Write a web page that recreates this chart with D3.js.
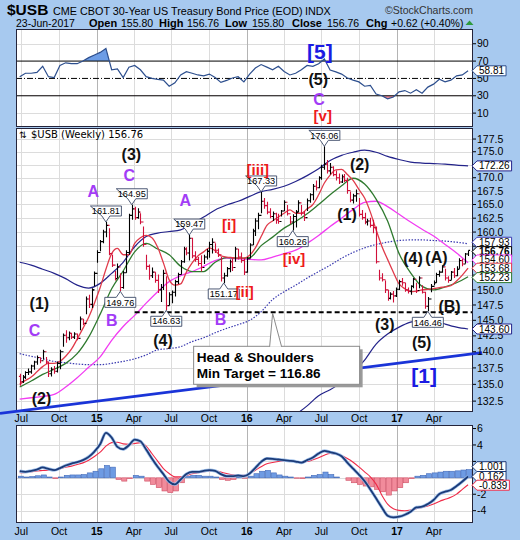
<!DOCTYPE html>
<html>
<head>
<meta charset="utf-8">
<script src="https://cdn.jsdelivr.net/npm/d3@7/dist/d3.min.js"></script>
<style>
  html, body { margin: 0; padding: 0; background: #a7c9ef; }
  svg { display: block; }
</style>
</head>
<body>
<svg id="chart" width="520" height="540"></svg>
<script>
// ============================================================
//  $USB weekly bars, Elliott-wave labels, RSI and MACD panels
// ============================================================

// ── Weekly bars (Fri 27-Jun-2014 .. Fri 23-Jun-2017) ──
const weekHigh = [
  136.6,136.4,137.0,137.4,138.0,138.6,139.4,139.1,140.3,139.2,138.5,137.6,137.8,138.5,140.3,142.9,143.4,143.2,143.0,143.1,
  142.9,145.6,145.2,148.9,149.2,150.3,153.1,156.8,158.6,160.4,161.81,160.7,156.0,153.2,154.5,152.8,153.2,156.8,163.3,164.95,
  164.6,164.3,163.4,161.0,156.0,154.3,153.8,153.0,152.6,151.0,153.4,152.3,149.6,149.9,151.7,152.9,155.1,157.4,157.3,159.47,
  159.0,156.6,155.6,155.9,156.0,157.0,158.3,158.9,158.0,157.1,155.6,152.9,153.9,155.2,155.4,157.4,157.0,156.4,155.4,155.6,
  158.0,160.6,162.5,163.5,167.33,166.2,165.5,164.3,163.7,163.5,163.3,164.0,165.8,164.9,162.9,163.2,164.0,165.8,164.9,163.8,
  166.1,167.1,168.8,169.5,170.3,172.5,176.06,173.4,172.8,172.2,171.4,170.8,170.6,170.7,170.0,167.4,167.0,167.8,166.2,164.0,
  163.5,162.4,162.6,162.2,161.0,153.4,152.8,151.6,150.0,149.6,149.8,150.4,151.7,152.0,151.2,150.4,150.8,152.0,151.2,152.3,
  150.8,149.7,148.8,151.0,151.6,152.9,153.3,154.2,153.6,152.3,153.2,153.7,154.0,155.4,155.3,156.3,156.76
];
const weekLow = [
  134.8,135.2,135.8,136.4,136.6,137.2,138.0,138.2,138.8,138.1,136.1,136.2,136.6,136.8,137.3,140.8,141.4,141.8,142.0,142.0,
  141.8,143.4,144.2,146.0,147.0,147.0,150.6,154.6,156.6,158.0,159.1,155.9,153.9,151.6,152.0,149.76,150.2,152.9,156.0,162.2,
  162.2,162.4,161.4,157.4,153.4,151.7,152.0,151.2,149.5,148.0,150.0,146.63,147.4,147.8,148.9,151.0,152.6,154.6,155.9,155.0,
  155.4,154.8,154.1,153.1,154.4,155.2,155.5,156.2,156.3,155.6,151.4,151.17,152.2,153.0,153.2,154.8,155.2,154.6,152.5,152.9,
  155.4,157.7,159.3,160.5,163.4,164.2,163.2,162.5,162.0,161.5,161.5,162.8,163.8,163.0,161.4,160.26,160.8,163.6,163.0,162.0,
  163.8,165.3,165.8,167.6,168.0,169.6,171.5,170.8,170.6,170.3,169.5,168.8,169.0,169.2,167.0,165.4,165.2,165.5,162.8,162.2,
  161.4,161.2,160.8,159.8,154.5,151.6,151.4,149.5,148.2,148.4,147.9,148.8,150.0,150.7,149.7,149.4,149.2,150.3,149.5,150.3,
  149.4,146.9,146.46,149.6,150.8,151.2,152.2,152.9,151.6,151.2,151.7,152.0,152.3,153.6,154.0,154.5,155.80
];
const weekClose = [
  135.4,136.1,136.8,136.9,137.8,138.4,139.1,138.6,140.0,138.4,136.6,137.3,137.0,138.2,140.0,142.6,142.2,142.9,142.3,142.8,
  142.1,145.2,144.5,148.5,147.6,150.0,152.8,156.4,158.3,160.0,161.2,156.2,154.2,151.9,153.9,150.4,152.9,156.4,163.0,164.2,
  162.6,163.6,161.8,157.8,154.0,152.4,153.0,151.6,150.0,150.4,152.8,147.4,149.2,149.6,151.4,152.6,154.8,157.0,156.3,158.9,
  155.8,155.2,154.5,153.8,155.6,156.6,157.8,158.2,156.8,156.0,152.0,152.4,153.6,154.8,153.8,157.0,155.6,155.0,153.0,155.3,
  157.7,160.2,162.0,163.0,165.6,164.8,163.6,162.8,163.3,162.2,161.9,163.8,165.4,163.3,161.8,162.8,163.6,165.3,163.4,162.6,
  165.7,166.8,168.4,168.1,170.0,172.0,172.6,171.3,172.0,170.6,170.0,169.2,170.2,169.5,167.6,165.8,166.6,167.0,163.2,162.6,
  161.8,162.0,161.2,160.8,154.8,152.0,151.7,150.0,148.6,149.3,149.0,150.1,151.4,151.2,150.0,149.8,150.6,151.8,149.9,152.0,
  149.6,147.3,148.5,150.6,151.2,152.6,153.0,153.9,152.0,151.6,153.0,152.4,153.5,155.0,154.4,156.14,156.76
];
const firstOpen = 136.2;

// ── Indicators read every 2nd week ──
const rsi14 = [
  52,56,56,57,64,52,51,65,68,67,67,70,74,77,80,84.6,60,61,51,63,
  65,60,52,50,49,48,41,45,54,57.7,56,54,53,55,51,45.4,47.7,50.5,52,46,
  55,62,66,63,60,64,58,54,56,60,65,64,67,72.5,59.6,57.5,55,50.5,48,46,
  41,42,32,30,26.5,28.6,34.6,36,33,37,33,40,43.4,49,46,48,53,54,58.81
];
const redMA = [
  135.0,135.6,136.1,136.9,137.7,138.2,138.2,138.5,139.3,140.4,142.0,143.7,145.5,147.8,150.4,153.5,156.2,157.1,156.0,156.0,
  158.0,159.0,159.4,159.0,157.3,154.6,151.7,150.8,151.0,153.0,154.6,155.8,156.5,157.2,156.7,155.8,155.6,155.5,155.4,155.4,
  155.9,157.2,159.2,161.2,162.0,162.7,163.4,164.0,163.4,163.4,164.2,165.0,166.8,169.0,170.5,171.5,171.6,170.6,169.5,167.8,
  166.2,163.6,160.4,157.5,155.2,153.0,151.0,150.2,149.7,149.8,150.0,150.1,150.2,150.4,150.5,150.7,151.5,152.5,153.68
];
const macdLine = [
  0.81,0.73,0.85,1.01,1.26,1.09,0.93,1.18,1.50,1.74,1.90,2.15,2.55,3.20,4.09,5.47,4.90,3.77,3.48,3.97,
  4.66,4.45,3.44,2.35,1.34,0.45,-0.48,-0.80,-0.20,0.45,0.73,0.73,0.85,0.93,0.85,0.45,0.20,0.20,0.28,0.20,
  0.53,1.22,1.94,2.35,2.31,2.23,2.15,2.07,1.98,1.86,2.15,2.47,2.96,3.28,3.12,2.96,2.63,1.86,1.13,0.40,
  -0.40,-1.41,-2.50,-3.60,-4.61,-4.81,-4.73,-4.49,-4.12,-3.60,-3.52,-3.19,-2.70,-1.98,-1.69,-1.49,-1.00,-0.44,0.162
];
const macdSignal = [
  0.61,0.65,0.73,0.85,0.89,0.93,0.93,1.09,1.30,1.42,1.62,1.82,2.15,2.59,3.12,3.85,4.29,4.33,4.13,4.09,
  4.17,4.29,3.85,2.96,2.03,1.13,0.53,0.12,0.12,0.28,0.49,0.61,0.73,0.81,0.85,0.69,0.53,0.36,0.32,0.32,
  0.53,0.93,1.34,1.70,1.86,1.98,2.07,2.07,1.98,1.94,1.98,2.19,2.43,2.76,2.96,2.92,2.71,2.35,1.90,1.34,
  0.73,0.12,-0.77,-2.11,-3.19,-3.76,-3.96,-4.00,-3.92,-3.76,-3.60,-3.43,-3.19,-2.87,-2.62,-2.38,-1.98,-1.41,-0.839
];
const macdHist = [
  0.2,0.1,0.15,0.25,0.35,0.1,-0.1,0.1,0.3,0.35,0.35,0.4,0.6,0.8,1.1,1.5,1.3,-0.2,-0.4,-0.1,
  0.3,0.2,-0.4,-0.8,-1.2,-1.6,-1.8,-1.6,-0.6,0.2,0.3,0.3,0.2,0.2,0.1,-0.2,-0.3,-0.2,0.1,-0.05,
  0.2,0.5,0.8,0.9,0.6,0.35,0.2,0.1,-0.05,-0.1,0.1,0.3,0.4,0.7,0.4,0.1,0.0,-0.3,-0.6,-0.8,
  -1.0,-1.1,-1.4,-1.7,-2.1,-1.6,-1.2,-0.6,-0.1,0.2,0.3,0.5,0.6,0.7,0.8,0.8,0.85,0.95,1.001
];

// ── Overlays read every 4th week ──
const greenMA = [
  134.6,135.5,136.5,137.3,138.2,139.7,142.3,146.0,150.2,153.2,156.5,158.0,157.0,156.0,154.0,153.1,153.1,154.7,155.5,155.4,
  155.5,157.6,159.1,160.7,161.9,163.3,165.0,166.8,168.5,169.9,168.8,166.0,162.0,156.2,152.9,150.6,150.0,150.5,151.2,152.23
];
const magentaMA = [
  132.8,133.0,133.2,133.5,134.6,136.0,137.6,139.2,141.8,144.0,145.8,147.8,149.7,151.4,152.4,153.1,154.0,155.0,155.4,155.3,
  155.2,155.1,155.6,156.2,156.8,158.0,159.4,161.0,162.5,164.1,165.4,165.6,164.6,163.2,161.8,160.5,159.3,157.8,156.3,154.6
];
const bandMid = [
  139.7,139.3,138.9,138.5,138.3,138.1,138.0,138.0,138.2,138.5,138.9,139.5,140.3,140.5,140.8,141.6,142.2,143.0,143.7,144.3,
  145.0,146.4,148.4,149.7,150.8,152.0,153.1,154.2,155.4,156.4,157.2,157.8,158.2,158.5,158.6,158.6,158.5,158.4,158.2,157.93
];
const bandUpper = [
  154.7,154.2,153.5,152.8,151.9,150.8,150.3,151.1,152.8,154.7,157.4,159.2,159.8,160.1,160.4,161.5,162.7,164.0,164.9,165.6,
  166.5,167.4,167.8,168.4,169.3,170.4,171.7,173.3,174.3,174.9,175.3,174.9,174.1,173.5,173.0,172.8,172.7,172.6,172.4,172.26
];
const bandLower = [
  124.7,124.4,124.3,124.2,124.7,125.4,125.7,124.9,123.6,122.3,120.4,119.8,120.8,120.9,121.2,121.7,121.7,122.0,122.5,123.0,
  123.5,125.4,128.0,129.3,130.5,131.8,133.3,134.2,135.3,136.8,138.7,141.2,142.8,143.9,144.7,145.0,145.0,144.4,143.9,143.60
];

// ── Axis ticks (labels hidden behind the value boxes are left out) ──
const priceTicks = d3.range(132.5, 178, 2.5);
const priceTickLabels = [132.5, 135, 137.5, 140, 142.5, 145, 147.5, 150, 160, 162.5, 165, 167.5, 170, 175, 177.5];
const rsiTicks = [10, 30, 50, 70, 90];
const macdTicks = [-4, -2, 2, 4, 6];
const macdTickLabels = [-4, -2, 4, 6];

// ── Marked highs / lows: week index, value, side ──
const tagWeek  = [30, 39, 35, 59, 51, 71, 84, 106, 95, 142];
const tagValue = [161.81, 164.95, 149.76, 159.47, 146.63, 151.17, 167.33, 176.06, 160.26, 146.46];
const tagSide  = ["hi", "hi", "lo", "hi", "lo", "lo", "hi", "hi", "lo", "lo"];

// ── Wave labels in the price panel: text, week index, price level, style ──
const waveText  = ["(3)","C","A","A","(1)","C","(2)","B","(4)","B","[i]","[ii]","[iii]","[iv]",
                   "(2)","(1)","(4)","(A)","(B)","(3)","(5)","[1]"];
const waveWeek  = [38.9,38.1,25.6,57.5,6.8,5.1,7.6,32,49.9,69.9,72.8,78.3,82.9,95.4,
                   118.3,113.9,136.9,145,149.6,127,139.8,140.7];
const waveLevel = [174.5,170.4,167.4,165.8,147.8,143.3,132.9,144.9,141.8,145.2,161.4,149.7,171.6,155.3,
                   172.6,163.2,155.4,155.5,147.3,144.3,141.5,136.3];
const waveStyle = ["k","p","p","p","k","p","k","p","k","p","r","r","r","r",
                   "k","k","k","k","k","k","k","b"];
// ── Wave labels in the RSI panel ──
const rsiWaveText  = ["[5]", "(5)", "C", "[v]"];
const rsiWaveWeek  = [104.4, 103.8, 104.1, 105.4];
const rsiWaveLevel = [80.7, 49.2, 26.1, 7.7];
const rsiWaveStyle = ["b", "k", "p", "r"];

const necklinePrice = 146.3;
const necklineStartWeek = 40;
const trendFrom = [new Date(2014, 5, 18), 131.0];
const trendTo   = [new Date(2017, 6, 5), 139.7];

// ============================================================
const W = 520, H = 540;
const L = 16, R = 473;
const rsiTop = 29, rsiBot = 127, pTop = 128, pBot = 412, mTop = 425, mBot = 523;
const FONT = "'Liberation Sans', Arial, sans-serif";

const STYLE = {
  k: { fill: "#111", size: 16 },
  p: { fill: "#a23cf6", size: 16 },
  r: { fill: "#ee1b1b", size: 15 },
  b: { fill: "#1b1be3", size: 21 }
};

const weeks = d3.timeFriday.range(new Date(2014, 5, 27), new Date(2017, 5, 24));

const x = d3.scaleTime()
  .domain([new Date(2014, 5, 18), new Date(2017, 6, 5)])
  .range([L, R]);
const yP = d3.scaleLog().domain([130.9, 179.7]).range([pBot, pTop]);
const yR = d3.scaleLinear().domain([-6, 107]).range([rsiBot, rsiTop]);
const yM = d3.scaleLinear().domain([-5.5, 6.43]).range([mBot, mTop]);

const quarters = d3.timeMonth.every(3).range(new Date(2014, 6, 1), new Date(2017, 5, 30));
const qLabel = d => d.getMonth() === 0 ? d3.timeFormat("%y")(d) : d3.timeFormat("%b")(d);

const svg = d3.select("#chart").attr("font-family", FONT);
svg.append("rect").attr("width", W).attr("height", H).attr("fill", "#a7c9ef");

const defs = svg.append("defs");
function clip(id, x0, y0, x1, y1) {
  defs.append("clipPath").attr("id", id).append("rect")
    .attr("x", x0).attr("y", y0).attr("width", x1 - x0).attr("height", y1 - y0);
}
clip("clipR", L, rsiTop, R, rsiBot);
clip("clipP", L, pTop, R, pBot);
clip("clipM", L, mTop, R, mBot);
clip("clipOB", L, rsiTop, R, yR(70));
clip("clipOS", L, yR(30), R, rsiBot);

// ── header ──────────────────────────────────────────────────
const hdr = svg.append("g").attr("fill", "#000");
hdr.append("text").attr("x", 7).attr("y", 15).attr("font-size", 15.5).attr("font-weight", "bold").text("$USB");
hdr.append("text").attr("x", 53).attr("y", 14.5).attr("font-size", 10.8)
  .text("CME CBOT 30-Year US Treasury Bond Price (EOD)");
hdr.append("text").attr("x", 305).attr("y", 14.5).attr("font-size", 10.8).text("INDX");
hdr.append("text").attr("x", 385).attr("y", 14).attr("font-size", 11).attr("fill", "#333")
  .attr("textLength", 88).attr("lengthAdjust", "spacingAndGlyphs").text("©StockCharts.com");

const line2 = [
  [16, "23-Jun-2017", false], [89, "Open", true], [121, "155.80", false],
  [159, "High", true], [187, "156.76", false], [225, "Low", true], [252, "155.80", false],
  [292, "Close", true], [327, "156.76", false], [366, "Chg", true], [391, "+0.62 (+0.40%)", false]
];
hdr.selectAll("text.l2").data(line2).join("text")
  .attr("class", "l2")
  .attr("x", d => d[0]).attr("y", 26.5)
  .attr("font-size", d => d[2] ? 11 : 10.5)
  .attr("font-weight", d => d[2] ? "bold" : "normal")
  .text(d => d[1]);
hdr.append("path").attr("d", "M465.5,25 L469.5,20.5 L473.5,25 Z").attr("fill", "#2e9a3c");

// ── panel backgrounds + grids ───────────────────────────────
function panelBase(top, bottom, yScale, hTicks) {
  const g = svg.append("g");
  g.append("rect").attr("x", L).attr("y", top).attr("width", R - L).attr("height", bottom - top).attr("fill", "#fff");
  g.selectAll("line.h").data(hTicks).join("line")
    .attr("x1", L).attr("x2", R)
    .attr("y1", d => Math.round(yScale(d)) + 0.5).attr("y2", d => Math.round(yScale(d)) + 0.5)
    .attr("stroke", "#dcdcdc").attr("stroke-width", 1);
  g.selectAll("line.v").data(quarters).join("line")
    .attr("x1", d => Math.round(x(d)) + 0.5).attr("x2", d => Math.round(x(d)) + 0.5)
    .attr("y1", top).attr("y2", bottom)
    .attr("stroke", d => d.getMonth() === 0 ? "#b4b4b4" : "#dcdcdc").attr("stroke-width", 1);
  return g;
}
panelBase(rsiTop, rsiBot, yR, [10, 90]);
panelBase(pTop, pBot, yP, priceTicks);
panelBase(mTop, mBot, yM, [-4, -2, 0, 2, 4]);

// ── RSI panel ───────────────────────────────────────────────
const gR = svg.append("g").attr("clip-path", "url(#clipR)");
const rsiX = (v, k) => x(weeks[k * 2]);
gR.append("path")
  .attr("d", d3.area().x(rsiX).y0(yR(70)).y1(v => yR(v))(rsi14))
  .attr("fill", "#6d9de6").attr("clip-path", "url(#clipOB)");
gR.append("path")
  .attr("d", d3.area().x(rsiX).y0(yR(30)).y1(v => yR(v))(rsi14))
  .attr("fill", "#f08c9c").attr("clip-path", "url(#clipOS)");
[70, 30].forEach(v => gR.append("line").attr("x1", L).attr("x2", R)
  .attr("y1", yR(v)).attr("y2", yR(v)).attr("stroke", "#000").attr("stroke-width", 1));
gR.append("line").attr("x1", L).attr("x2", R).attr("y1", yR(50)).attr("y2", yR(50))
  .attr("stroke", "#000").attr("stroke-width", 1).attr("stroke-dasharray", "6,2,1,2");
gR.append("path")
  .attr("d", d3.line().x(rsiX).y(v => yR(v))(rsi14))
  .attr("fill", "none").attr("stroke", "#2d4f8e").attr("stroke-width", 1.2);

function drawWave(g, texts, weeksIdx, levels, styles, yScale) {
  g.selectAll("text").data(texts).join("text")
    .attr("x", (t, k) => x(d3.timeDay.offset(weeks[0], Math.round(weeksIdx[k] * 7))))
    .attr("y", (t, k) => yScale(levels[k]))
    .attr("text-anchor", "middle").attr("dominant-baseline", "central")
    .attr("font-weight", "bold")
    .attr("font-size", (t, k) => STYLE[styles[k]].size)
    .attr("fill", (t, k) => STYLE[styles[k]].fill)
    .text(t => t);
}
drawWave(svg.append("g"), rsiWaveText, rsiWaveWeek, rsiWaveLevel, rsiWaveStyle, yR);

// ── price panel ─────────────────────────────────────────────
const gP = svg.append("g").attr("clip-path", "url(#clipP)");
const lineOf = step => d3.line()
  .x((v, k) => x(weeks[k * step]))
  .y(v => yP(v))
  .curve(d3.curveMonotoneX);

gP.append("path").attr("d", lineOf(4)(bandUpper)).attr("fill", "none").attr("stroke", "#23238a").attr("stroke-width", 1.2);
gP.append("path").attr("d", lineOf(4)(bandLower)).attr("fill", "none").attr("stroke", "#23238a").attr("stroke-width", 1.2);
gP.append("path").attr("d", lineOf(4)(bandMid)).attr("fill", "none").attr("stroke", "#3a3ab0")
  .attr("stroke-width", 1.2).attr("stroke-dasharray", "1.5,1.5");
gP.append("path").attr("d", lineOf(4)(magentaMA)).attr("fill", "none").attr("stroke", "#f23cf2").attr("stroke-width", 1.3);
gP.append("path").attr("d", lineOf(4)(greenMA)).attr("fill", "none").attr("stroke", "#2f7a2f").attr("stroke-width", 1.3);
gP.append("path").attr("d", lineOf(2)(redMA)).attr("fill", "none").attr("stroke", "#e03a4a").attr("stroke-width", 1.3);

// OHLC bars (open tick = previous close)
const prevClose = i => i === 0 ? firstOpen : weekClose[i - 1];
gP.append("g").selectAll("path").data(weekClose).join("path")
  .attr("d", (c, i) => {
    const cx = Math.round(x(weeks[i])) + 0.5;
    return `M${cx},${yP(weekHigh[i])}V${yP(weekLow[i])}` +
           `M${cx - 1.6},${yP(prevClose(i))}H${cx}` +
           `M${cx},${yP(c)}H${cx + 1.6}`;
  })
  .attr("fill", "none")
  .attr("stroke", (c, i) => c < prevClose(i) ? "#d0103a" : "#000")
  .attr("stroke-width", 1.1);

// neckline
gP.append("line")
  .attr("x1", x(weeks[necklineStartWeek])).attr("x2", R)
  .attr("y1", yP(necklinePrice)).attr("y2", yP(necklinePrice))
  .attr("stroke", "#000").attr("stroke-width", 2).attr("stroke-dasharray", "5,3");

// high / low tags
const gTags = gP.append("g");
tagValue.forEach((v, k) => {
  const cx = x(weeks[tagWeek[k]]), ty = yP(v), hi = tagSide[k] === "hi";
  const w = 31, h = 10, by = hi ? ty - 6 - h : ty + 6;
  const d = hi
    ? `M${cx - w / 2},${by}H${cx + w / 2}V${by + h}H${cx + 4}L${cx},${ty}L${cx - 4},${by + h}Z`
    : `M${cx - w / 2},${by}H${cx - 4}L${cx},${ty}L${cx + 4},${by}H${cx + w / 2}V${by + h}H${cx - w / 2}Z`;
  gTags.append("path").attr("d", d).attr("fill", "#fff").attr("stroke", "#3b4866").attr("stroke-width", 0.9);
  gTags.append("text").attr("x", cx).attr("y", by + h - 1.8).attr("text-anchor", "middle")
    .attr("font-size", 9.2).attr("fill", "#000").text(v.toFixed(2));
});

drawWave(gP.append("g"), waveText, waveWeek, waveLevel, waveStyle, yP);

// price panel title
gP.append("text").attr("x", 19).attr("y", 138).attr("font-family", "'DejaVu Sans', sans-serif")
  .attr("font-size", 9).attr("fill", "#000").text("⇅");
gP.append("text").attr("x", 31).attr("y", 138).attr("font-family", "'DejaVu Sans', sans-serif")
  .attr("font-size", 10).attr("fill", "#000").text("$USB (Weekly) 156.76");

// ── MACD panel ──────────────────────────────────────────────
const gM = svg.append("g").attr("clip-path", "url(#clipM)");
const bw2 = x(weeks[2]) - x(weeks[0]);
gM.append("g").selectAll("rect").data(macdHist).join("rect")
  .attr("x", (v, k) => x(weeks[k * 2]) - bw2 / 4)
  .attr("width", bw2 - 0.6)
  .attr("y", v => Math.min(yM(0), yM(v)))
  .attr("height", v => Math.abs(yM(v) - yM(0)))
  .attr("fill", v => v >= 0 ? "#6e9be3" : "#f18b9b")
  .attr("stroke", v => v >= 0 ? "#4269b8" : "#cf4c62")
  .attr("stroke-width", 0.6);
const mLine = d3.line().x((v, k) => x(weeks[k * 2])).y(v => yM(v)).curve(d3.curveMonotoneX);
gM.append("path").attr("d", mLine(macdSignal)).attr("fill", "none").attr("stroke", "#ef2a48").attr("stroke-width", 1.1);
gM.append("path").attr("d", mLine(macdLine)).attr("fill", "none").attr("stroke", "#9fc0ea").attr("stroke-width", 3.2);
gM.append("path").attr("d", mLine(macdLine)).attr("fill", "none").attr("stroke", "#1c3b78").attr("stroke-width", 1.8);

// ── panel borders ───────────────────────────────────────────
[[rsiTop, rsiBot], [pTop, pBot], [mTop, mBot]].forEach(([t, b]) =>
  svg.append("rect").attr("x", L + 0.5).attr("y", t + 0.5).attr("width", R - L - 1).attr("height", b - t - 1)
    .attr("fill", "none").attr("stroke", "#24243a").attr("stroke-width", 1));

// ── trendline (runs past the panel edges) ───────────────────
{
  const p1 = [x(trendFrom[0]), yP(trendFrom[1])], p2 = [x(trendTo[0]), yP(trendTo[1])];
  const slope = (p2[1] - p1[1]) / (p2[0] - p1[0]);
  const at = px => p1[1] + slope * (px - p1[0]);
  svg.append("line").attr("x1", 0).attr("y1", at(0)).attr("x2", 482).attr("y2", at(482))
    .attr("stroke", "#1a34d8").attr("stroke-width", 2.8);
}

// ── Head & Shoulders callout (sits on top of the trendline) ──
{
  const ax = x(weeks[88]), ay = yP(necklinePrice);
  const bx = ax - 79, byTop = ay + 34, bw = 166, bh = 38;
  const g = svg.append("g");
  g.append("rect").attr("x", bx + 3).attr("y", byTop + 3).attr("width", bw).attr("height", bh).attr("fill", "#9a9a9a");
  g.append("rect").attr("x", bx).attr("y", byTop).attr("width", bw).attr("height", bh)
    .attr("fill", "#fff").attr("stroke", "#8a8a8a").attr("stroke-width", 1);
  g.append("path").attr("d", `M${ax - 3},${byTop + 0.5}L${ax},${ay + 1}L${ax + 9},${byTop + 0.5}`)
    .attr("fill", "#fff").attr("stroke", "#8a8a8a").attr("stroke-width", 1);
  g.append("text").attr("x", bx + 3).attr("y", byTop + 16).attr("font-size", 13.6).attr("font-weight", "bold")
    .attr("fill", "#000").text("Head & Shoulders");
  g.append("text").attr("x", bx + 3).attr("y", byTop + 32).attr("font-size", 13.6).attr("font-weight", "bold")
    .attr("fill", "#000").text("Min Target = 116.86");
}

// ── x axis labels ───────────────────────────────────────────
[421.5, 535].forEach(yy => {
  svg.append("g").selectAll("text").data(quarters).join("text")
    .attr("x", d => x(d)).attr("y", yy).attr("text-anchor", "middle")
    .attr("font-size", 10.5).attr("font-weight", d => d.getMonth() === 0 ? "bold" : "normal")
    .attr("fill", "#000").text(qLabel);
});

// ── right axes ──────────────────────────────────────────────
function rightAxis(ticks, labels, yScale, fmt) {
  const g = svg.append("g");
  g.selectAll("line").data(ticks).join("line")
    .attr("x1", R).attr("x2", R + 3).attr("y1", d => yScale(d)).attr("y2", d => yScale(d))
    .attr("stroke", "#000");
  g.selectAll("text").data(labels).join("text")
    .attr("x", R + 4).attr("y", d => yScale(d) + 3.6)
    .attr("font-size", 10.5).attr("fill", "#000").text(fmt);
}
rightAxis(rsiTicks, rsiTicks, yR, d => d);
rightAxis(priceTicks, priceTickLabels, yP, d => d.toFixed(1));
rightAxis(macdTicks, macdTickLabels, yM, d => d);

function valueBox(y, txt, stroke, bold) {
  const g = svg.append("g");
  const path = g.append("path");
  const t = g.append("text").attr("x", R + 6).attr("y", y + 3.5)
    .attr("font-size", 10).attr("font-weight", bold ? "bold" : "normal").attr("fill", "#000").text(txt);
  const w = t.node().getComputedTextLength() + 4;
  path.attr("d", `M${R - 1},${y}L${R + 4},${y - 5}H${R + 4 + w}V${y + 5}H${R + 4}Z`)
    .attr("fill", "#fff").attr("stroke", stroke).attr("stroke-width", 1);
}
valueBox(yR(58.81), "58.81", "#2d4f8e", false);
valueBox(yP(172.26), "172.26", "#23238a", false);
valueBox(yP(157.93) - 1.5, "157.93", "#3a3ab0", false);
valueBox(yP(156.76) + 1.2, "156.76", "#000", true);
valueBox(yP(154.60) - 2.9, "154.60", "#f23cf2", false);
valueBox(yP(153.68), "153.68", "#e03a4a", false);
valueBox(yP(152.23) + 0.9, "152.23", "#2f7a2f", false);
valueBox(yP(143.60), "143.60", "#23238a", false);
valueBox(yM(1.001) - 2.9, "1.001", "#1c3b78", false);
valueBox(yM(0.162), "0.162", "#1c3b78", false);
valueBox(yM(-0.839) + 0.5, "-0.839", "#ef2a48", false);
</script>
</body>
</html>
